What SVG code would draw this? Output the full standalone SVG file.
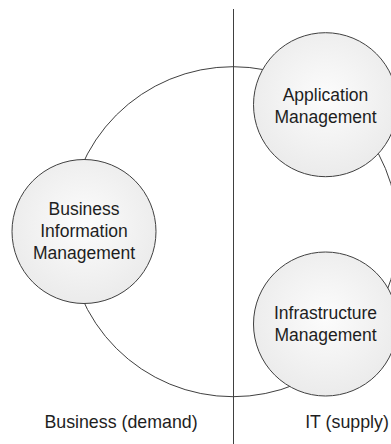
<svg xmlns="http://www.w3.org/2000/svg" width="391" height="444" viewBox="0 0 391 444">
  <defs>
    <radialGradient id="g" cx="50%" cy="45%" r="55%">
      <stop offset="0" stop-color="#fcfcfc"/>
      <stop offset="1" stop-color="#ebebeb"/>
    </radialGradient>
    <style>
      .node { fill: url(#g); stroke: #404040; stroke-width: 1; }
      .ring { fill: none; stroke: #404040; stroke-width: 1; }
      .lbl { font-family: "Liberation Sans", Arial, sans-serif; font-size: 17.5px; fill: #1e1e1e; text-anchor: middle; }
      .side { font-size: 17.8px; }
    </style>
  </defs>
  <rect width="391" height="444" fill="#ffffff"/>
  <g id="connectors">
    <line x1="233.5" y1="9" x2="233.5" y2="444" stroke="#404040" stroke-width="1"/>
    <circle class="ring" cx="233" cy="231.7" r="165"/>
  </g>
  <g id="bim">
    <circle class="node" cx="84" cy="231.5" r="72"/>
    <text class="lbl" x="84" y="215">Business</text>
    <text class="lbl" x="84" y="237">Information</text>
    <text class="lbl" x="84" y="259">Management</text>
  </g>
  <g id="app">
    <circle class="node" cx="325.5" cy="104.7" r="72"/>
    <text class="lbl" x="325.5" y="101">Application</text>
    <text class="lbl" x="325.5" y="123">Management</text>
  </g>
  <g id="infra">
    <circle class="node" cx="325.5" cy="324" r="72"/>
    <text class="lbl" x="325.5" y="319">Infrastructure</text>
    <text class="lbl" x="325.5" y="341">Management</text>
  </g>
  <g id="labels">
    <text class="lbl side" x="121" y="428">Business (demand)</text>
    <text class="lbl side" x="347" y="428">IT (supply)</text>
  </g>
</svg>
